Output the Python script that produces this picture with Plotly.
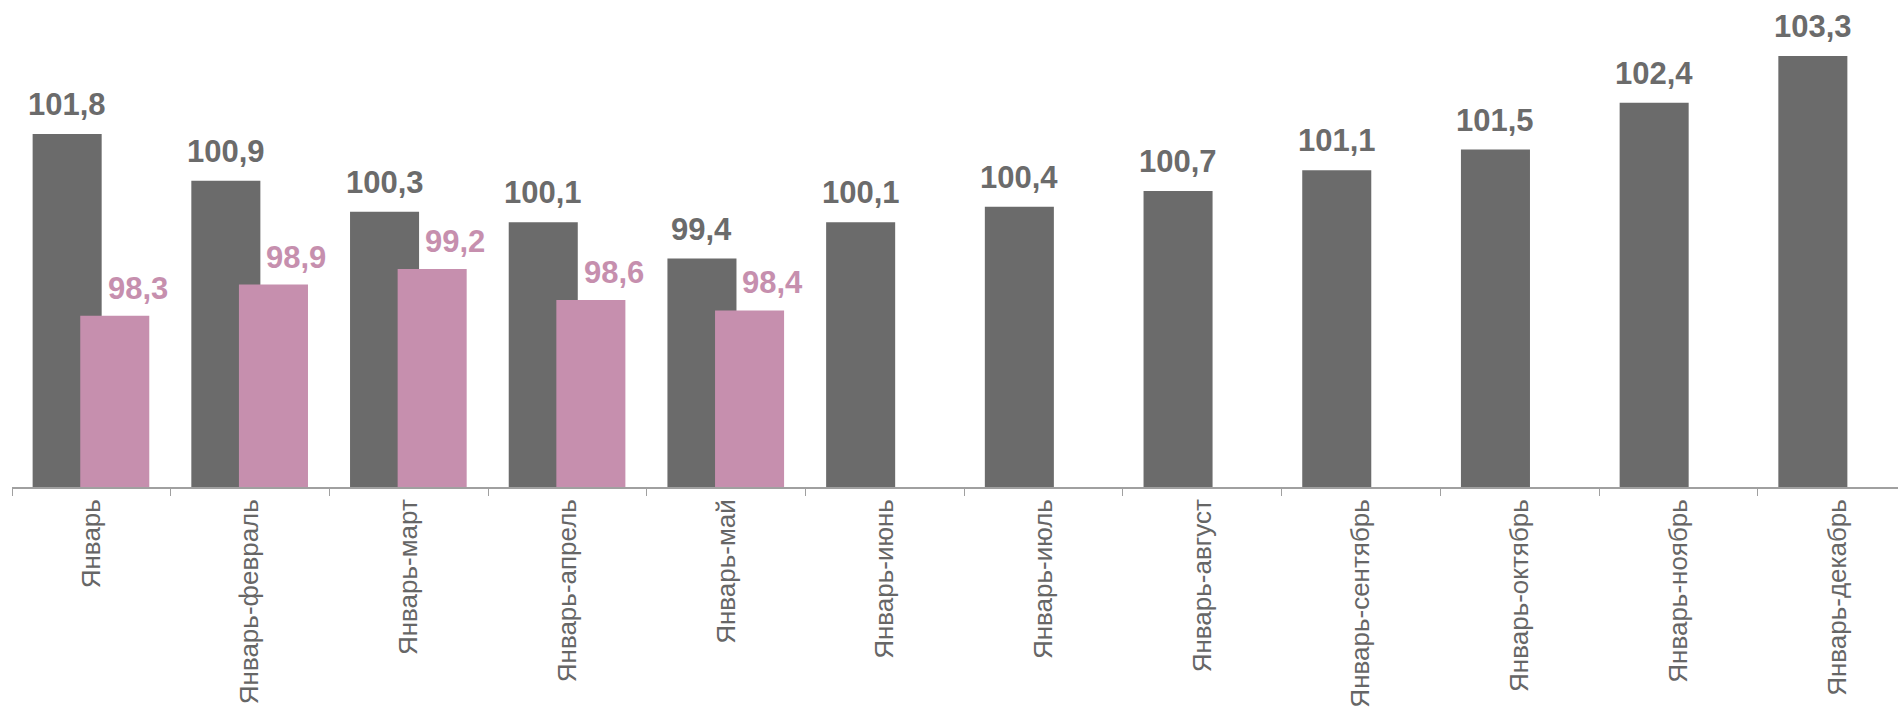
import plotly.graph_objects as go

categories = ["Январь", "Январь-февраль", "Январь-март", "Январь-апрель", "Январь-май",
              "Январь-июнь", "Январь-июль", "Январь-август", "Январь-сентябрь",
              "Январь-октябрь", "Январь-ноябрь", "Январь-декабрь"]
series_gray = [101.8, 100.9, 100.3, 100.1, 99.4, 100.1, 100.4, 100.7, 101.1, 101.5, 102.4, 103.3]
series_pink = [98.3, 98.9, 99.2, 98.6, 98.4]
pink_categories = categories[:len(series_pink)]

GRAY = "#6b6b6b"
PINK = "#c68fae"
FONT = "Liberation Sans, Arial, sans-serif"

def fmt(v):
    return f"{v:.1f}".replace(".", ",")

BW = 0.435
G_OFF = -0.37
P_OFF = -0.07

fig = go.Figure()
fig.add_trace(go.Bar(x=categories, y=series_gray, marker_color=GRAY,
                     marker_line_width=0, width=BW, offset=G_OFF, hoverinfo="skip"))
fig.add_trace(go.Bar(x=pink_categories, y=series_pink, marker_color=PINK,
                     marker_line_width=0, width=BW, offset=P_OFF, hoverinfo="skip"))

cat_px = 158.7
for c, v in zip(categories, series_gray):
    fig.add_annotation(x=c, y=v, text=f"<b>{fmt(v)}</b>", showarrow=False,
                       xref="x", yref="y", yanchor="bottom",
                       xshift=(G_OFF + BW / 2) * cat_px, yshift=10,
                       font=dict(family=FONT, size=31, color=GRAY))
for c, v in zip(pink_categories, series_pink):
    fig.add_annotation(x=c, y=v, text=f"<b>{fmt(v)}</b>", showarrow=False,
                       xref="x", yref="y", yanchor="bottom",
                       xshift=(P_OFF + BW / 2) * cat_px + 23, yshift=8,
                       font=dict(family=FONT, size=31, color=PINK))

fig.update_layout(
    width=1898, height=714,
    margin=dict(l=12, r=0, t=0, b=227),
    barmode="overlay",
    showlegend=False,
    hovermode=False,
    plot_bgcolor="white", paper_bgcolor="white",
    xaxis=dict(type="category", range=[-0.5, 11.384], tickangle=-90,
               tickson="boundaries", ticks="outside", ticklen=7, tickcolor="#a0a0a0",
               showline=True, linecolor="#a0a0a0", linewidth=1.5,
               ticklabelstandoff=0, automargin=False,
               showgrid=False, tickfont=dict(family=FONT, size=26, color="#666666")),
    yaxis=dict(range=[95, 104.38], visible=False, showgrid=False, automargin=False),
)

fig.write_html("out.html", config={"displayModeBar": False},
               post_script="document.body.style.margin='0';document.body.style.overflow='hidden';")
